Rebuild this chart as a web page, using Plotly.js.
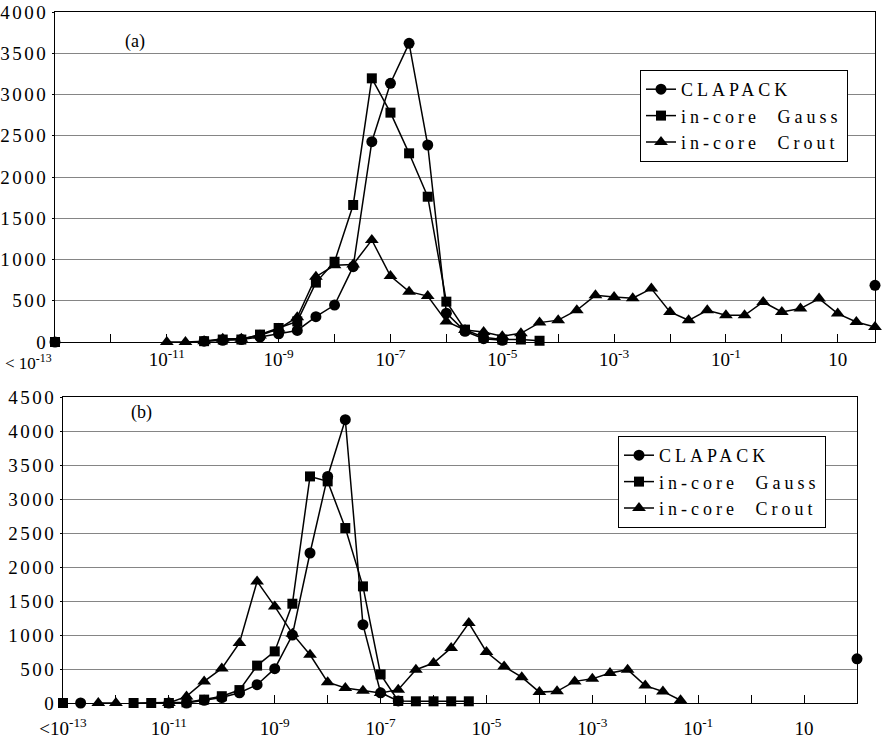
<!DOCTYPE html>
<html><head><meta charset="utf-8">
<script src="https://cdn.plot.ly/plotly-3.0.1.min.js"></script>
<style>
html,body{margin:0;padding:0;background:#fff;}
#chart{width:888px;height:740px;}
.legendtext, text[data-unformatted="CLAPACK"], text[data-unformatted^="in-core"]{letter-spacing:4px;word-spacing:9px;}
.ytick text,.y2tick text{letter-spacing:2.5px;}
</style></head><body><div id="chart"></div>
<script>
// bin positions: 3 bins per decade, bin 0 = "<1e-13"
const binsA = [0,1,2,3,4,5,6,7,8,9,10,11,12,13,14,15,16,17,18,19,20,21,22,23,24,25,26,27,28,29,30,31,32,33,34,35,36,37,38,39,40,41,42,43,44];
const binsB = [0,1,2,3,4,5,6,7,8,9,10,11,12,13,14,15,16,17,18,19,20,21,22,23,24,25,26,27,28,29,30,31,32,33,34,35,36,37,38,39,40,41,42,43,44,45];

const tickPos = [0,3,6,9,12,15,18,21,24,27,30,33,36,39,42];
const tickLabelsA = ['', '', '10<sup>-11</sup>', '', '10<sup>-9</sup>', '', '10<sup>-7</sup>', '', '10<sup>-5</sup>', '', '10<sup>-3</sup>', '', '10<sup>-1</sup>', '', '10'];
const tickLabelsB = ['&lt;10<sup>-13</sup>', '', '10<sup>-11</sup>', '', '10<sup>-9</sup>', '', '10<sup>-7</sup>', '', '10<sup>-5</sup>', '', '10<sup>-3</sup>', '', '10<sup>-1</sup>', '', '10'];

const seriesNames = ['CLAPACK', 'in-core Gauss', 'in-core Crout'];

// panel (a)
const clapackA = [0,null,null,null,null,null,null,null,10,20,30,60,100,140,307,448,913,2428,3136,3620,2388,350,130,40,20,
  null,null,null,null,null,null,null,null,null,null,null,null,null,null,null,null,null,null,null,687];
const gaussA = [0,null,null,null,null,null,null,null,10,30,30,90,170,250,720,973,1661,3196,2780,2287,1761,489,150,57,30,30,15,
  null,null,null,null,null,null,null,null,null,null,null,null,null,null,null,null,null,null];
const croutA = [null,null,null,null,null,null,0,0,10,40,40,80,160,300,792,930,940,1236,800,610,557,250,145,120,70,105,235,265,
  385,566,545,530,647,364,263,384,324,324,485,364,405,526,344,242,182];

// panel (b)
const clapackB = [null,0,null,null,null,null,0,0,40,80,150,269,505,1000,2206,3332,4166,1151,150,30,
  null,null,null,null,null,null,null,null,null,null,null,null,null,null,null,null,null,null,null,null,null,null,null,null,null,650];
const gaussB = [0,null,null,null,0,0,0,10,50,100,190,550,759,1460,3332,3259,2573,1715,420,30,25,25,25,25,
  null,null,null,null,null,null,null,null,null,null,null,null,null,null,null,null,null,null,null,null,null,null];
const croutB = [null,null,0,0,null,null,0,97,318,508,882,1788,1420,1020,710,306,220,180,147,196,490,588,810,1176,750,538,380,160,171,318,355,441,490,256,170,40,
  null,null,null,null,null,null,null,null,null,null];

const FONT = 'Liberation Serif';
const symbols = ['circle', 'square', 'triangle-up'];
const sizes = [11, 10, 12];

function trace(i, x, y, xa, ya, leg) {
  return {
    type: 'scatter', mode: 'lines+markers', name: seriesNames[i],
    x: x, y: y, xaxis: xa, yaxis: ya, legend: leg,
    cliponaxis: false, connectgaps: false,
    line: {color: '#000', width: 1.5},
    marker: {symbol: symbols[i], size: sizes[i], color: '#000', line: {width: 0}}
  };
}

const data = [
  trace(0, binsA, clapackA, 'x', 'y', 'legend'),
  trace(1, binsA, gaussA, 'x', 'y', 'legend'),
  trace(2, binsA, croutA, 'x', 'y', 'legend'),
  trace(0, binsB, clapackB, 'x2', 'y2', 'legend2'),
  trace(1, binsB, gaussB, 'x2', 'y2', 'legend2'),
  trace(2, binsB, croutB, 'x2', 'y2', 'legend2')
];

const W = 888, H = 740;
function xaxisCfg(dom, rng, anchor, labels, standoff) {
  return {
    domain: dom, range: rng, anchor: anchor, tickmode: 'array', tickvals: tickPos, ticktext: labels,
    ticks: 'inside', ticklen: 8, tickcolor: '#000', tickwidth: 1, ticklabelstandoff: standoff,
    showline: true, linecolor: '#000', linewidth: 1, mirror: true,
    showgrid: false, zeroline: false, tickangle: 0,
    tickfont: {family: FONT, size: 19, color: '#000'}
  };
}
function yaxisCfg(dom, rng, anchor) {
  return {
    domain: dom, range: rng, anchor: anchor, tick0: 0, dtick: 500,
    ticks: 'outside', ticklen: 2, tickcolor: '#000',
    showline: true, linecolor: '#000', linewidth: 1, mirror: true,
    showgrid: true, gridcolor: '#858585', gridwidth: 1, zeroline: false,
    tickfont: {family: FONT, size: 19, color: '#000'}
  };
}
function legendCfg(x, y) {
  return {
    x: x, y: y, xanchor: 'left', yanchor: 'top', bgcolor: '#fff',
    bordercolor: '#000', borderwidth: 1, tracegroupgap: 0,
    font: {family: FONT, size: 18, color: '#000'}
  };
}

const layout = {
  width: W, height: H, margin: {l: 0, r: 0, t: 0, b: 0},
  paper_bgcolor: '#fff', plot_bgcolor: '#fff', showlegend: true,
  font: {family: FONT, color: '#000'},
  xaxis: xaxisCfg([55/W, 875/W], [0, 44], 'y', tickLabelsA, 0),
  yaxis: yaxisCfg([(H-342)/H, (H-12)/H], [0, 4000], 'x'),
  xaxis2: xaxisCfg([63/W, 857/W], [0, 45], 'y2', tickLabelsB, 8),
  yaxis2: yaxisCfg([(H-703)/H, (H-397)/H], [0, 4500], 'x2'),
  legend: legendCfg(640/W, (H-70)/H),
  legend2: legendCfg(618/W, (H-436)/H),
  annotations: [
    {text: '(a)', xref: 'paper', yref: 'paper', x: 123/W, y: (H-29)/H, showarrow: false,
     font: {family: FONT, size: 18, color: '#000'}},
    {text: '(b)', xref: 'paper', yref: 'paper', x: 129/W, y: (H-412)/H, showarrow: false,
     font: {family: FONT, size: 18, color: '#000'}},
    {text: '&lt; 10<sup>-13</sup>', xref: 'paper', yref: 'paper', x: 54/W, y: (H-349)/H,
     xanchor: 'right', yanchor: 'top', showarrow: false,
     font: {family: FONT, size: 17, color: '#000'}}
  ]
};

Plotly.newPlot('chart', data, layout, {displayModeBar: false, staticPlot: true});
</script>
</body></html>
